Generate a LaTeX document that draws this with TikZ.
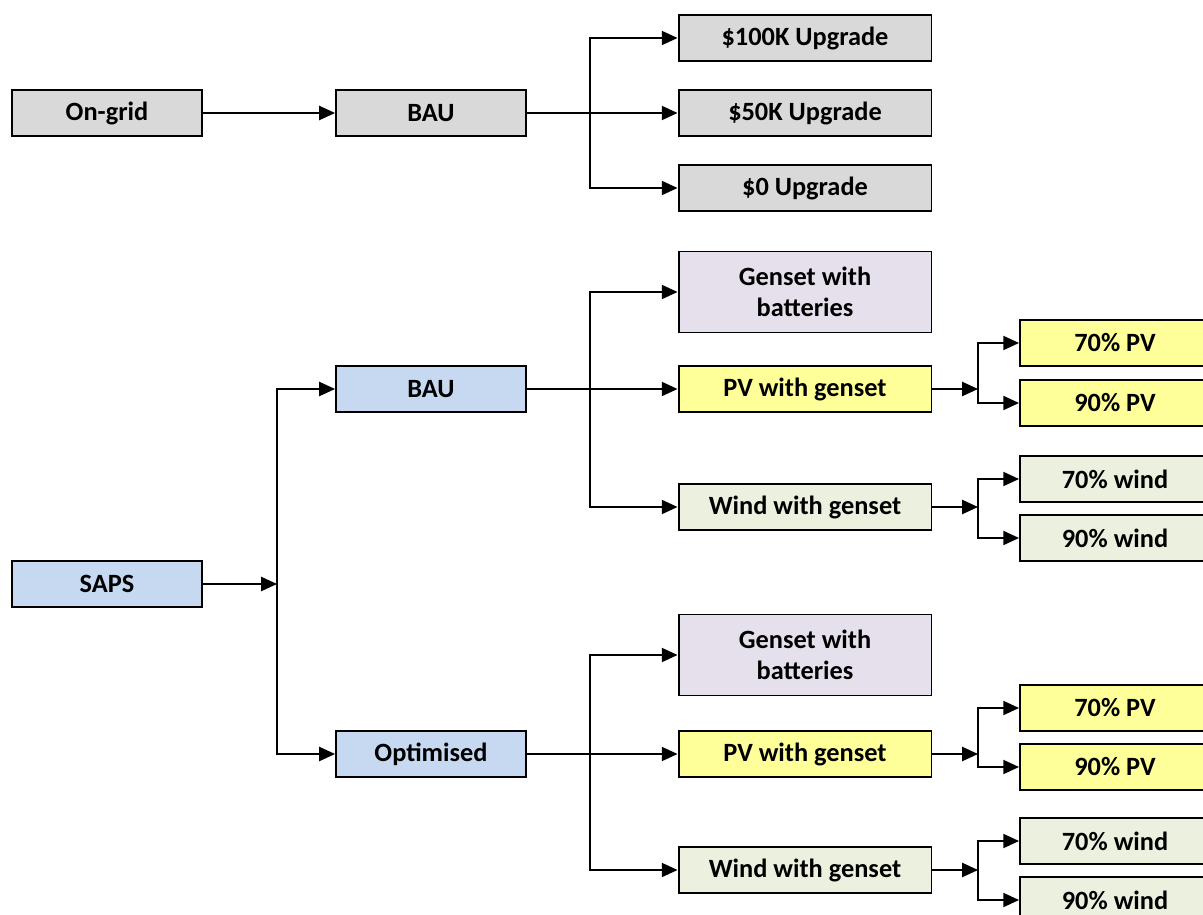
\documentclass[tikz,border=0pt]{standalone}
\usepackage{fontspec}
\setmainfont{Carlito}
\usepackage{tikz}
\usetikzlibrary{arrows.meta}
\usepackage{xcolor}
\definecolor{greybox}{HTML}{D9D9D9}
\definecolor{bluebox}{HTML}{C6D9F1}
\definecolor{yellowbox}{HTML}{FFFF99}
\definecolor{greenbox}{HTML}{EBF1DE}
\definecolor{lilacbox}{HTML}{E5E0EC}

\begin{document}
\begin{tikzpicture}[x=0.02cm, y=-0.02cm,
  box/.style={draw, line width=1.1pt, minimum height=0.92cm, inner sep=2pt,
    align=center, font=\bfseries\fontsize{15}{18}\selectfont},
  first/.style={box, minimum width=3.8cm},
  option/.style={box, minimum width=5.06cm},
  share/.style={box, minimum width=3.8cm},
  arr/.style={line width=1.1pt, -{Triangle[length=9pt,width=8pt]}}]
\useasboundingbox (0,0) rectangle (1203,915);

% On-grid branch
\node[first, fill=greybox] (ongrid) at (107,113) {On-grid};
\node[first, fill=greybox] (bau1) at (431,113) {BAU};
\node[option, fill=greybox] (up100) at (805,38) {\$100K Upgrade};
\node[option, fill=greybox] (up50) at (805,113) {\$50K Upgrade};
\node[option, fill=greybox] (up0) at (805,188) {\$0 Upgrade};

% SAPS branch
\node[first, fill=bluebox] (saps) at (107,584) {SAPS};
\node[first, fill=bluebox] (bau2) at (431,389) {BAU};
\node[first, fill=bluebox] (opt) at (431,754) {Optimised};

% SAPS - BAU options
\node[option, fill=lilacbox, minimum height=1.62cm] (gen1) at (805,292) {Genset with\\batteries};
\node[option, fill=yellowbox] (pv1) at (805,389) {PV with genset};
\node[option, fill=greenbox] (wind1) at (805,507) {Wind with genset};
\node[share, fill=yellowbox] (pv70a) at (1115,343) {70\% PV};
\node[share, fill=yellowbox] (pv90a) at (1115,403) {90\% PV};
\node[share, fill=greenbox] (wind70a) at (1115,479) {70\% wind};
\node[share, fill=greenbox] (wind90a) at (1115,538) {90\% wind};

% SAPS - Optimised options
\node[option, fill=lilacbox, minimum height=1.62cm] (gen2) at (805,655) {Genset with\\batteries};
\node[option, fill=yellowbox] (pv2) at (805,754) {PV with genset};
\node[option, fill=greenbox] (wind2) at (805,870) {Wind with genset};
\node[share, fill=yellowbox] (pv70b) at (1115,708) {70\% PV};
\node[share, fill=yellowbox] (pv90b) at (1115,767) {90\% PV};
\node[share, fill=greenbox] (wind70b) at (1115,841) {70\% wind};
\node[share, fill=greenbox] (wind90b) at (1115,900) {90\% wind};

% Junctions
\coordinate (jup) at (590,113);
\coordinate (jsaps) at (277,584);
\coordinate (jbau) at (590,389);
\coordinate (jopt) at (590,754);
\coordinate (jpv1) at (978,389);
\coordinate (jwind1) at (978,507);
\coordinate (jpv2) at (978,754);
\coordinate (jwind2) at (978,870);

% Connectors
\draw[arr] (ongrid) -- (bau1);
\draw[arr] (bau1) -- (up50);
\draw[arr] (jup) |- (up100);
\draw[arr] (jup) |- (up0);

\draw[arr] (saps) -- (jsaps);
\draw[arr] (jsaps) |- (bau2);
\draw[arr] (jsaps) |- (opt);

\draw[arr] (bau2) -- (pv1);
\draw[arr] (jbau) |- (gen1);
\draw[arr] (jbau) |- (wind1);
\draw[arr] (opt) -- (pv2);
\draw[arr] (jopt) |- (gen2);
\draw[arr] (jopt) |- (wind2);

\draw[arr] (pv1) -- (jpv1);
\draw[arr] (jpv1) |- (pv70a);
\draw[arr] (jpv1) |- (pv90a);
\draw[arr] (wind1) -- (jwind1);
\draw[arr] (jwind1) |- (wind70a);
\draw[arr] (jwind1) |- (wind90a);
\draw[arr] (pv2) -- (jpv2);
\draw[arr] (jpv2) |- (pv70b);
\draw[arr] (jpv2) |- (pv90b);
\draw[arr] (wind2) -- (jwind2);
\draw[arr] (jwind2) |- (wind70b);
\draw[arr] (jwind2) |- (wind90b);
\end{tikzpicture}
\end{document}
